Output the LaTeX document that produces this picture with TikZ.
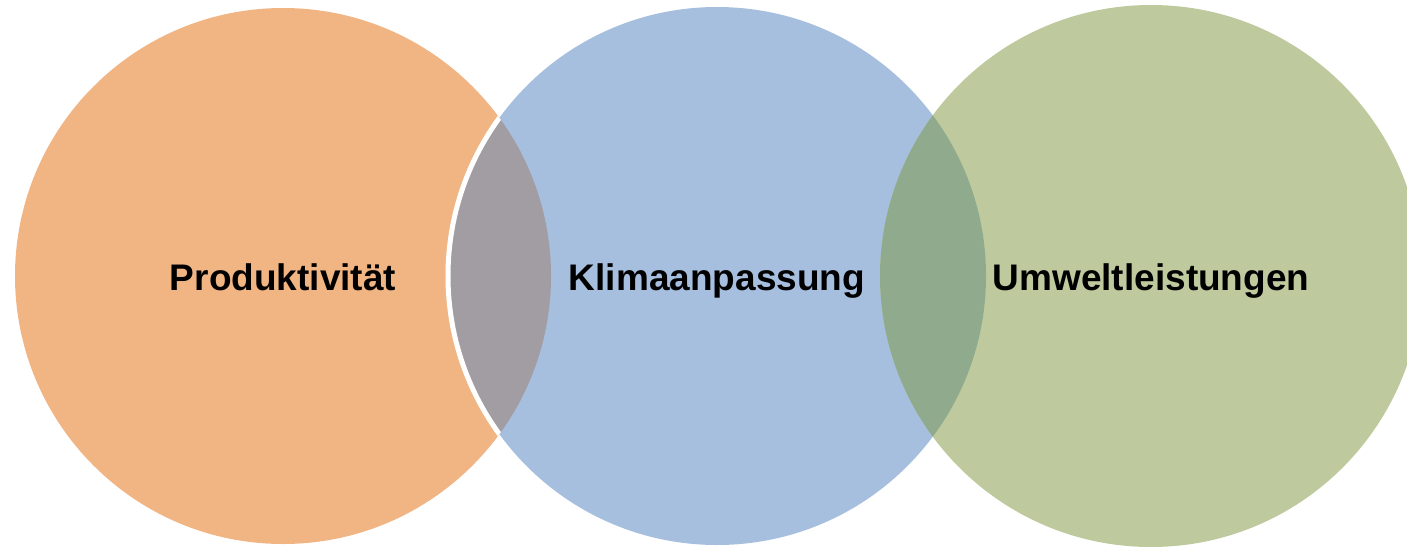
\documentclass[tikz,border=0pt]{standalone}
\usepackage{fontspec}
\setmainfont{Liberation Sans}
\definecolor{corange}{RGB}{241,181,132}
\definecolor{cblue}{RGB}{167,191,222}
\definecolor{cgreen}{RGB}{190,201,158}
\definecolor{cgrey}{RGB}{162,156,163}
\definecolor{cdgreen}{RGB}{143,170,140}
\begin{document}
\begin{tikzpicture}[x=0.5pt,y=-0.5pt,
  lbl/.style={font=\bfseries\fontsize{18.5}{22}\selectfont, text=black, anchor=base, inner sep=0pt}]
\useasboundingbox (0,0) rectangle (1407,546);
\begin{scope}
\clip (0,0) rectangle (1407,546);
\coordinate (co) at (283,276);
\coordinate (cb) at (717,276);
\coordinate (cg) at (1151,276);
\fill[corange] (co) circle[radius=134pt];
\fill[cblue] (cb) circle[radius=134.5pt];
\fill[cgreen] (cg) circle[radius=135.5pt];
\begin{scope}
\clip (co) circle[radius=134pt];
\fill[cgrey] (cb) circle[radius=134.5pt];
\draw[white, line width=2.5pt] (cb) circle[radius=134.5pt];
\end{scope}
\begin{scope}
\clip (cb) circle[radius=134.5pt];
\fill[cdgreen] (cg) circle[radius=135.5pt];
\end{scope}
\end{scope}
\node[lbl] (p) at (283,290) {Produktivität};
\node[lbl] (k) at (717,290) {Klimaanpassung};
\node[lbl] (u) at (1151,290) {Umweltleistungen};
\end{tikzpicture}
\end{document}
